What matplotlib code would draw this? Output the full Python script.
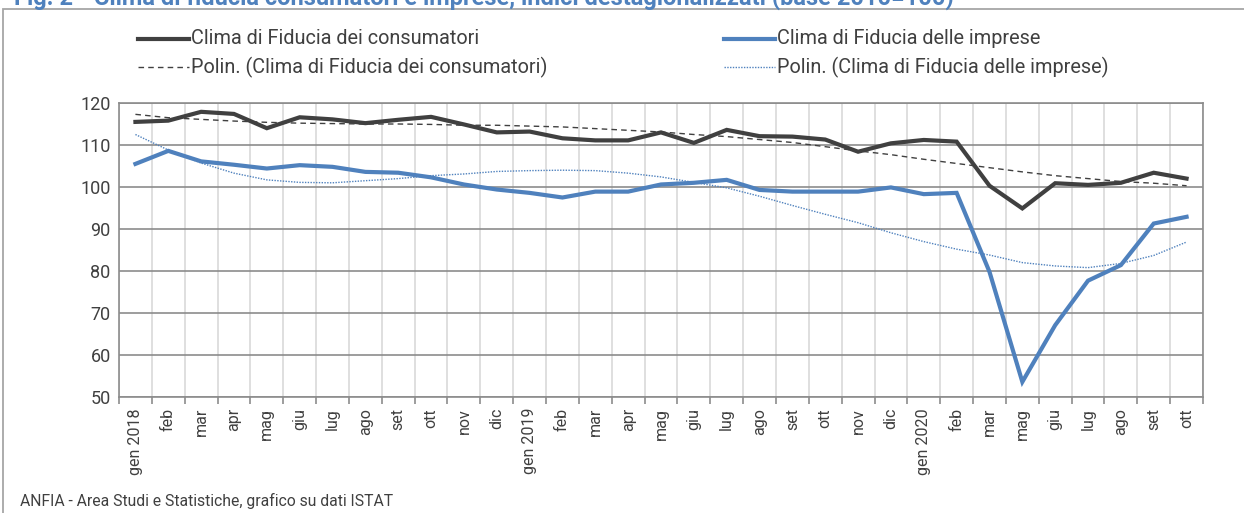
import numpy as np
import matplotlib.pyplot as plt
from matplotlib.lines import Line2D
from matplotlib.patches import Rectangle

# ── DATA ──
mesi = ['gen 2018', 'feb', 'mar', 'apr', 'mag', 'giu', 'lug', 'ago', 'set', 'ott', 'nov', 'dic',
        'gen 2019', 'feb', 'mar', 'apr', 'mag', 'giu', 'lug', 'ago', 'set', 'ott', 'nov', 'dic',
        'gen 2020', 'feb', 'mar', 'mag', 'giu', 'lug', 'ago', 'set', 'ott']

consumatori = [115.5, 115.8, 117.9, 117.4, 114.0, 116.6, 116.1, 115.2, 116.0, 116.7, 114.9, 113.0,
               113.2, 111.6, 111.1, 111.1, 113.0, 110.5, 113.6, 112.1, 112.0, 111.3, 108.4, 110.4,
               111.2, 110.8, 100.3, 94.9, 100.9, 100.5, 101.0, 103.4, 102.0]

imprese = [105.5, 108.6, 106.1, 105.3, 104.4, 105.2, 104.8, 103.6, 103.4, 102.3, 100.6, 99.4,
           98.6, 97.5, 98.9, 98.9, 100.6, 101.0, 101.7, 99.3, 98.9, 98.9, 98.9, 99.9,
           98.3, 98.6, 79.8, 53.6, 67.1, 77.7, 81.4, 91.3, 92.9]

# polynomial trend lines (Polin.)
polin_consumatori = [117.3, 116.5, 116.1, 115.7, 115.4, 115.2, 115.1, 115.0, 115.0, 114.9, 114.7, 114.7,
                     114.5, 114.3, 113.9, 113.5, 113.1, 112.5, 112.0, 111.3, 110.6, 109.6, 108.6, 107.7,
                     106.6, 105.6, 104.6, 103.6, 102.7, 102.0, 101.3, 100.9, 100.3]

polin_imprese = [112.5, 108.8, 105.7, 103.3, 101.7, 101.1, 101.0, 101.5, 102.0, 102.7, 103.1, 103.7,
                 103.9, 104.0, 103.9, 103.3, 102.4, 101.1, 99.8, 97.8, 95.6, 93.5, 91.5, 89.1,
                 87.0, 85.2, 83.8, 82.0, 81.2, 80.8, 81.8, 83.7, 86.9]

n = len(mesi)
xs = np.arange(n)

# ── STYLE ──
DARK = '#404040'
BLUE = '#4f81bd'
GRID_H = '#8c8c8c'
GRID_V = '#d9d9d9'
TXT = '#404040'

plt.rcParams['font.family'] = 'Roboto'

W, H = 1244, 513
fig = plt.figure(figsize=(W / 100, H / 100), dpi=100)
fig.patch.set_facecolor('white')

# outer frame (runs off the right/bottom edge)
fig.add_artist(Rectangle((3 / W, -0.2), 1.2, 1.2 - 9 / H,
                         transform=fig.transFigure, facecolor='none',
                         edgecolor='#a6a6a6', linewidth=1.3, zorder=1))

# title, mostly above the visible area
fig.text(14 / W, 1 - 5 / H,
         'Fig. 2 - Clima di fiducia consumatori e imprese, indici destagionalizzati (base 2010=100)',
         color=BLUE, fontsize=17, fontweight='bold', ha='left', va='baseline')

ax = fig.add_axes([119 / W, 1 - 397 / H, (1203 - 119) / W, (397 - 103) / H])

ax.plot(xs, consumatori, color=DARK, linewidth=3.0, solid_joinstyle='miter', zorder=4)
ax.plot(xs, imprese, color=BLUE, linewidth=3.0, solid_joinstyle='miter', zorder=4)
ax.plot(xs, polin_consumatori, color=DARK, linewidth=1.0, dashes=(4, 3), zorder=3)
ax.plot(xs, polin_imprese, color=BLUE, linewidth=1.0, dashes=(1, 1), zorder=3)

ax.set_xlim(-0.5, n - 0.5)
ax.set_ylim(50, 120)
ax.set_yticks(range(50, 121, 10))

# vertical grid on category boundaries, horizontal grid on values
for b in np.arange(-0.5, n, 1.0):
    ax.axvline(b, color=GRID_V, linewidth=1.2, zorder=1)
for yv in range(50, 121, 10):
    ax.axhline(yv, color=GRID_H, linewidth=1.2, zorder=2)

ax.set_xticks(np.arange(-0.5, n, 1.0), minor=False)
ax.set_xticklabels([])
ax.set_xticks(xs, minor=True)
ax.set_xticklabels(mesi, minor=True, rotation=90, fontsize=11.5, color=TXT, va='top')
ax.tick_params(axis='x', which='major', direction='out', length=5, color=GRID_H, width=1.2)
ax.tick_params(axis='x', which='minor', length=0, pad=8)
ax.tick_params(axis='y', length=0, labelsize=13, labelcolor=TXT, pad=6)

for s in ax.spines.values():
    s.set_color(GRID_H)
    s.set_linewidth(1.2)

# ── LEGEND ──
def legend_item(x0, x1, y, text, **kw):
    fig.add_artist(Line2D([x0 / W, x1 / W], [1 - y / H, 1 - y / H],
                          transform=fig.transFigure, **kw))
    fig.text((x1 + 2) / W, 1 - y / H, text, fontsize=14.3, color=TXT,
             ha='left', va='center')

legend_item(138, 189, 39, 'Clima di Fiducia dei consumatori', color=DARK, linewidth=3.0)
legend_item(138, 189, 67, 'Polin. (Clima di Fiducia dei consumatori)',
            color=DARK, linewidth=1.0, dashes=(4, 3))
legend_item(724, 775, 39, 'Clima di Fiducia delle imprese', color=BLUE, linewidth=3.0)
legend_item(724, 775, 67, 'Polin. (Clima di Fiducia delle imprese)',
            color=BLUE, linewidth=1.0, dashes=(1, 1))

# ── FOOTER ──
fig.text(20 / W, 1 - 501 / H, 'ANFIA - Area Studi e Statistiche, grafico su dati ISTAT',
         fontsize=11.3, color=TXT, ha='left', va='center')

fig.savefig('out.png', dpi=100, facecolor='white')
